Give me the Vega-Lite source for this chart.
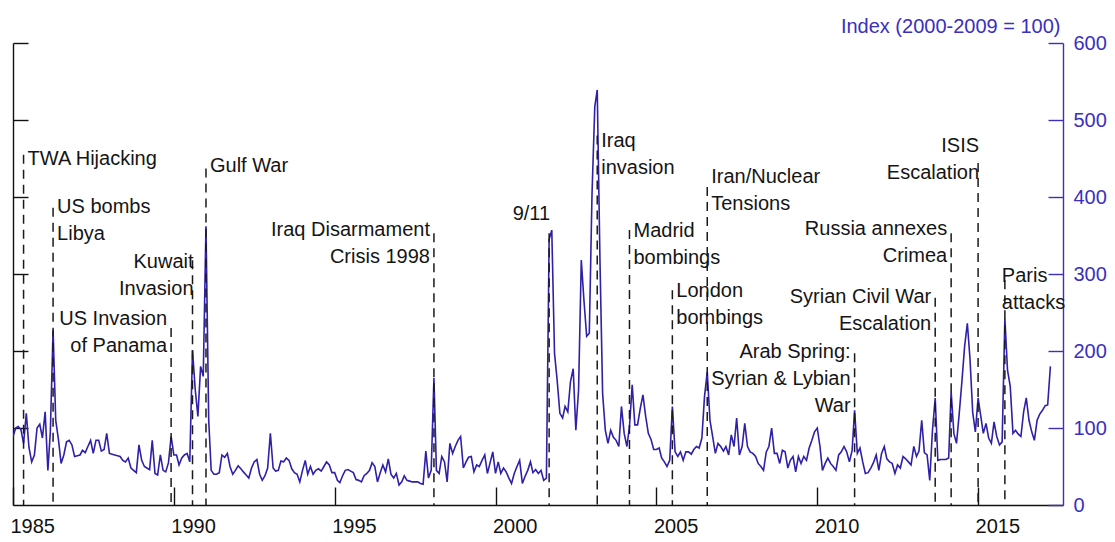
{
  "$schema": "https://vega.github.io/schema/vega-lite/v6.json",
  "width": 1050,
  "height": 462,
  "autosize": {"type": "none"},
  "padding": {"left": 13, "top": 43, "right": 52, "bottom": 37},
  "background": "white",
  "config": {"view": {"stroke": null}, "font": "Liberation Sans"},
  "datasets": {
    "gpr": [
      {"date":"1985-01","gpr":89},{"date":"1985-02","gpr":100},{"date":"1985-03","gpr":102},{"date":"1985-04","gpr":98},{"date":"1985-05","gpr":80},{"date":"1985-06","gpr":119},{"date":"1985-07","gpr":75},{"date":"1985-08","gpr":56},{"date":"1985-09","gpr":65},{"date":"1985-10","gpr":100},{"date":"1985-11","gpr":105},{"date":"1985-12","gpr":87},
      {"date":"1986-01","gpr":121},{"date":"1986-02","gpr":45},{"date":"1986-03","gpr":95},{"date":"1986-04","gpr":227},{"date":"1986-05","gpr":110},{"date":"1986-06","gpr":85},{"date":"1986-07","gpr":54},{"date":"1986-08","gpr":65},{"date":"1986-09","gpr":82},{"date":"1986-10","gpr":84},{"date":"1986-11","gpr":78},{"date":"1986-12","gpr":63},
      {"date":"1987-01","gpr":64},{"date":"1987-02","gpr":65},{"date":"1987-03","gpr":71},{"date":"1987-04","gpr":68},{"date":"1987-05","gpr":76},{"date":"1987-06","gpr":84},{"date":"1987-07","gpr":67},{"date":"1987-08","gpr":84},{"date":"1987-09","gpr":84},{"date":"1987-10","gpr":70},{"date":"1987-11","gpr":72},{"date":"1987-12","gpr":93},
      {"date":"1988-01","gpr":67},{"date":"1988-02","gpr":66},{"date":"1988-03","gpr":65},{"date":"1988-04","gpr":64},{"date":"1988-05","gpr":63},{"date":"1988-06","gpr":58},{"date":"1988-07","gpr":56},{"date":"1988-08","gpr":61},{"date":"1988-09","gpr":48},{"date":"1988-10","gpr":45},{"date":"1988-11","gpr":42},{"date":"1988-12","gpr":78},
      {"date":"1989-01","gpr":58},{"date":"1989-02","gpr":50},{"date":"1989-03","gpr":48},{"date":"1989-04","gpr":46},{"date":"1989-05","gpr":84},{"date":"1989-06","gpr":41},{"date":"1989-07","gpr":39},{"date":"1989-08","gpr":65},{"date":"1989-09","gpr":45},{"date":"1989-10","gpr":43},{"date":"1989-11","gpr":55},{"date":"1989-12","gpr":89},
      {"date":"1990-01","gpr":65},{"date":"1990-02","gpr":65},{"date":"1990-03","gpr":52},{"date":"1990-04","gpr":61},{"date":"1990-05","gpr":65},{"date":"1990-06","gpr":67},{"date":"1990-07","gpr":56},{"date":"1990-08","gpr":201},{"date":"1990-09","gpr":150},{"date":"1990-10","gpr":115},{"date":"1990-11","gpr":180},{"date":"1990-12","gpr":167},
      {"date":"1991-01","gpr":362},{"date":"1991-02","gpr":110},{"date":"1991-03","gpr":45},{"date":"1991-04","gpr":40},{"date":"1991-05","gpr":40},{"date":"1991-06","gpr":42},{"date":"1991-07","gpr":65},{"date":"1991-08","gpr":62},{"date":"1991-09","gpr":67},{"date":"1991-10","gpr":50},{"date":"1991-11","gpr":40},{"date":"1991-12","gpr":45},
      {"date":"1992-01","gpr":51},{"date":"1992-02","gpr":47},{"date":"1992-03","gpr":43},{"date":"1992-04","gpr":39},{"date":"1992-05","gpr":35},{"date":"1992-06","gpr":48},{"date":"1992-07","gpr":56},{"date":"1992-08","gpr":59},{"date":"1992-09","gpr":40},{"date":"1992-10","gpr":32},{"date":"1992-11","gpr":38},{"date":"1992-12","gpr":48},
      {"date":"1993-01","gpr":93},{"date":"1993-02","gpr":48},{"date":"1993-03","gpr":44},{"date":"1993-04","gpr":45},{"date":"1993-05","gpr":57},{"date":"1993-06","gpr":56},{"date":"1993-07","gpr":61},{"date":"1993-08","gpr":58},{"date":"1993-09","gpr":47},{"date":"1993-10","gpr":42},{"date":"1993-11","gpr":40},{"date":"1993-12","gpr":30},
      {"date":"1994-01","gpr":45},{"date":"1994-02","gpr":58},{"date":"1994-03","gpr":40},{"date":"1994-04","gpr":50},{"date":"1994-05","gpr":40},{"date":"1994-06","gpr":45},{"date":"1994-07","gpr":47},{"date":"1994-08","gpr":44},{"date":"1994-09","gpr":50},{"date":"1994-10","gpr":56},{"date":"1994-11","gpr":52},{"date":"1994-12","gpr":42},
      {"date":"1995-01","gpr":42},{"date":"1995-02","gpr":32},{"date":"1995-03","gpr":29},{"date":"1995-04","gpr":38},{"date":"1995-05","gpr":45},{"date":"1995-06","gpr":46},{"date":"1995-07","gpr":44},{"date":"1995-08","gpr":42},{"date":"1995-09","gpr":33},{"date":"1995-10","gpr":32},{"date":"1995-11","gpr":30},{"date":"1995-12","gpr":38},
      {"date":"1996-01","gpr":41},{"date":"1996-02","gpr":45},{"date":"1996-03","gpr":55},{"date":"1996-04","gpr":50},{"date":"1996-05","gpr":30},{"date":"1996-06","gpr":42},{"date":"1996-07","gpr":52},{"date":"1996-08","gpr":43},{"date":"1996-09","gpr":60},{"date":"1996-10","gpr":40},{"date":"1996-11","gpr":35},{"date":"1996-12","gpr":41},
      {"date":"1997-01","gpr":26},{"date":"1997-02","gpr":30},{"date":"1997-03","gpr":38},{"date":"1997-04","gpr":32},{"date":"1997-05","gpr":31},{"date":"1997-06","gpr":30},{"date":"1997-07","gpr":30},{"date":"1997-08","gpr":30},{"date":"1997-09","gpr":28},{"date":"1997-10","gpr":27},{"date":"1997-11","gpr":70},{"date":"1997-12","gpr":35},
      {"date":"1998-01","gpr":45},{"date":"1998-02","gpr":165},{"date":"1998-03","gpr":45},{"date":"1998-04","gpr":41},{"date":"1998-05","gpr":63},{"date":"1998-06","gpr":56},{"date":"1998-07","gpr":30},{"date":"1998-08","gpr":80},{"date":"1998-09","gpr":67},{"date":"1998-10","gpr":76},{"date":"1998-11","gpr":84},{"date":"1998-12","gpr":89},
      {"date":"1999-01","gpr":48},{"date":"1999-02","gpr":56},{"date":"1999-03","gpr":62},{"date":"1999-04","gpr":63},{"date":"1999-05","gpr":43},{"date":"1999-06","gpr":52},{"date":"1999-07","gpr":50},{"date":"1999-08","gpr":58},{"date":"1999-09","gpr":65},{"date":"1999-10","gpr":41},{"date":"1999-11","gpr":55},{"date":"1999-12","gpr":69},
      {"date":"2000-01","gpr":41},{"date":"2000-02","gpr":56},{"date":"2000-03","gpr":41},{"date":"2000-04","gpr":48},{"date":"2000-05","gpr":43},{"date":"2000-06","gpr":35},{"date":"2000-07","gpr":28},{"date":"2000-08","gpr":41},{"date":"2000-09","gpr":50},{"date":"2000-10","gpr":58},{"date":"2000-11","gpr":28},{"date":"2000-12","gpr":37},
      {"date":"2001-01","gpr":45},{"date":"2001-02","gpr":56},{"date":"2001-03","gpr":42},{"date":"2001-04","gpr":46},{"date":"2001-05","gpr":41},{"date":"2001-06","gpr":45},{"date":"2001-07","gpr":32},{"date":"2001-08","gpr":35},{"date":"2001-09","gpr":345},{"date":"2001-10","gpr":357},{"date":"2001-11","gpr":197},{"date":"2001-12","gpr":162},
      {"date":"2002-01","gpr":119},{"date":"2002-02","gpr":113},{"date":"2002-03","gpr":128},{"date":"2002-04","gpr":121},{"date":"2002-05","gpr":160},{"date":"2002-06","gpr":177},{"date":"2002-07","gpr":97},{"date":"2002-08","gpr":149},{"date":"2002-09","gpr":318},{"date":"2002-10","gpr":266},{"date":"2002-11","gpr":219},{"date":"2002-12","gpr":223},
      {"date":"2003-01","gpr":405},{"date":"2003-02","gpr":517},{"date":"2003-03","gpr":539},{"date":"2003-04","gpr":318},{"date":"2003-05","gpr":145},{"date":"2003-06","gpr":97},{"date":"2003-07","gpr":80},{"date":"2003-08","gpr":97},{"date":"2003-09","gpr":88},{"date":"2003-10","gpr":84},{"date":"2003-11","gpr":76},{"date":"2003-12","gpr":128},
      {"date":"2004-01","gpr":93},{"date":"2004-02","gpr":76},{"date":"2004-03","gpr":102},{"date":"2004-04","gpr":156},{"date":"2004-05","gpr":104},{"date":"2004-06","gpr":104},{"date":"2004-07","gpr":125},{"date":"2004-08","gpr":143},{"date":"2004-09","gpr":115},{"date":"2004-10","gpr":93},{"date":"2004-11","gpr":85},{"date":"2004-12","gpr":72},
      {"date":"2005-01","gpr":72},{"date":"2005-02","gpr":74},{"date":"2005-03","gpr":61},{"date":"2005-04","gpr":56},{"date":"2005-05","gpr":50},{"date":"2005-06","gpr":58},{"date":"2005-07","gpr":128},{"date":"2005-08","gpr":69},{"date":"2005-09","gpr":63},{"date":"2005-10","gpr":69},{"date":"2005-11","gpr":58},{"date":"2005-12","gpr":69},
      {"date":"2006-01","gpr":69},{"date":"2006-02","gpr":66},{"date":"2006-03","gpr":72},{"date":"2006-04","gpr":76},{"date":"2006-05","gpr":74},{"date":"2006-06","gpr":87},{"date":"2006-07","gpr":141},{"date":"2006-08","gpr":173},{"date":"2006-09","gpr":110},{"date":"2006-10","gpr":89},{"date":"2006-11","gpr":67},{"date":"2006-12","gpr":80},
      {"date":"2007-01","gpr":76},{"date":"2007-02","gpr":70},{"date":"2007-03","gpr":76},{"date":"2007-04","gpr":65},{"date":"2007-05","gpr":91},{"date":"2007-06","gpr":76},{"date":"2007-07","gpr":113},{"date":"2007-08","gpr":65},{"date":"2007-09","gpr":76},{"date":"2007-10","gpr":106},{"date":"2007-11","gpr":76},{"date":"2007-12","gpr":69},
      {"date":"2008-01","gpr":67},{"date":"2008-02","gpr":63},{"date":"2008-03","gpr":54},{"date":"2008-04","gpr":50},{"date":"2008-05","gpr":45},{"date":"2008-06","gpr":69},{"date":"2008-07","gpr":76},{"date":"2008-08","gpr":100},{"date":"2008-09","gpr":67},{"date":"2008-10","gpr":67},{"date":"2008-11","gpr":54},{"date":"2008-12","gpr":71},
      {"date":"2009-01","gpr":69},{"date":"2009-02","gpr":48},{"date":"2009-03","gpr":58},{"date":"2009-04","gpr":63},{"date":"2009-05","gpr":43},{"date":"2009-06","gpr":63},{"date":"2009-07","gpr":54},{"date":"2009-08","gpr":63},{"date":"2009-09","gpr":58},{"date":"2009-10","gpr":74},{"date":"2009-11","gpr":84},{"date":"2009-12","gpr":95},
      {"date":"2010-01","gpr":100},{"date":"2010-02","gpr":76},{"date":"2010-03","gpr":45},{"date":"2010-04","gpr":54},{"date":"2010-05","gpr":61},{"date":"2010-06","gpr":54},{"date":"2010-07","gpr":50},{"date":"2010-08","gpr":45},{"date":"2010-09","gpr":65},{"date":"2010-10","gpr":69},{"date":"2010-11","gpr":76},{"date":"2010-12","gpr":69},
      {"date":"2011-01","gpr":56},{"date":"2011-02","gpr":71},{"date":"2011-03","gpr":123},{"date":"2011-04","gpr":67},{"date":"2011-05","gpr":74},{"date":"2011-06","gpr":56},{"date":"2011-07","gpr":41},{"date":"2011-08","gpr":42},{"date":"2011-09","gpr":48},{"date":"2011-10","gpr":55},{"date":"2011-11","gpr":65},{"date":"2011-12","gpr":45},
      {"date":"2012-01","gpr":67},{"date":"2012-02","gpr":76},{"date":"2012-03","gpr":60},{"date":"2012-04","gpr":56},{"date":"2012-05","gpr":54},{"date":"2012-06","gpr":41},{"date":"2012-07","gpr":52},{"date":"2012-08","gpr":48},{"date":"2012-09","gpr":63},{"date":"2012-10","gpr":60},{"date":"2012-11","gpr":56},{"date":"2012-12","gpr":52},
      {"date":"2013-01","gpr":76},{"date":"2013-02","gpr":63},{"date":"2013-03","gpr":70},{"date":"2013-04","gpr":110},{"date":"2013-05","gpr":68},{"date":"2013-06","gpr":65},{"date":"2013-07","gpr":32},{"date":"2013-08","gpr":97},{"date":"2013-09","gpr":139},{"date":"2013-10","gpr":58},{"date":"2013-11","gpr":59},{"date":"2013-12","gpr":59},
      {"date":"2014-01","gpr":59},{"date":"2014-02","gpr":61},{"date":"2014-03","gpr":147},{"date":"2014-04","gpr":93},{"date":"2014-05","gpr":80},{"date":"2014-06","gpr":119},{"date":"2014-07","gpr":160},{"date":"2014-08","gpr":206},{"date":"2014-09","gpr":236},{"date":"2014-10","gpr":190},{"date":"2014-11","gpr":120},{"date":"2014-12","gpr":95},
      {"date":"2015-01","gpr":139},{"date":"2015-02","gpr":115},{"date":"2015-03","gpr":93},{"date":"2015-04","gpr":106},{"date":"2015-05","gpr":87},{"date":"2015-06","gpr":80},{"date":"2015-07","gpr":108},{"date":"2015-08","gpr":89},{"date":"2015-09","gpr":78},{"date":"2015-10","gpr":82},{"date":"2015-11","gpr":242},{"date":"2015-12","gpr":175},
      {"date":"2016-01","gpr":154},{"date":"2016-02","gpr":93},{"date":"2016-03","gpr":97},{"date":"2016-04","gpr":92},{"date":"2016-05","gpr":89},{"date":"2016-06","gpr":121},{"date":"2016-07","gpr":139},{"date":"2016-08","gpr":110},{"date":"2016-09","gpr":95},{"date":"2016-10","gpr":84},{"date":"2016-11","gpr":110},{"date":"2016-12","gpr":118},
      {"date":"2017-01","gpr":123},{"date":"2017-02","gpr":129},{"date":"2017-03","gpr":130},{"date":"2017-04","gpr":180}
    ],
    "events": [
      {"id":"twa","date":"1985-05","top":455,"labelY":442,"label":"TWA Hijacking"},
      {"id":"libya","date":"1986-04","top":386,"labelY":379,"label":"US bombs\n\u00a0Libya"},
      {"id":"panama","date":"1989-12","top":230,"labelY":234,"label":"US Invasion\nof Panama"},
      {"id":"kuwait","date":"1990-08","top":318,"labelY":308,"label":"Kuwait\nInvasion"},
      {"id":"gulf","date":"1991-01","top":437,"labelY":432,"label":"Gulf War"},
      {"id":"iraqdis","date":"1998-02","top":353,"labelY":350,"label":"Iraq Disarmament\nCrisis 1998"},
      {"id":"911","date":"2001-09","top":353,"labelY":370,"label":"9/11"},
      {"id":"iraqinv","date":"2003-03","top":480,"labelY":465,"label":"Iraq\n\u00a0invasion"},
      {"id":"madrid","date":"2004-03","top":357,"labelY":348,"label":"Madrid\n\u00a0bombings"},
      {"id":"london","date":"2005-07","top":279,"labelY":270,"label":"London\n\u00a0bombings"},
      {"id":"iran","date":"2006-08","top":413,"labelY":418,"label":"Iran/Nuclear\n\u00a0Tensions"},
      {"id":"arab","date":"2011-03","top":197,"labelY":191,"label":"Arab Spring:\nSyrian & Lybian\nWar"},
      {"id":"syria","date":"2013-09","top":269,"labelY":262,"label":"Syrian Civil War\nEscalation"},
      {"id":"crimea","date":"2014-03","top":353,"labelY":351,"label":"Russia annexes\nCrimea"},
      {"id":"isis","date":"2015-01","top":444,"labelY":458,"label":"ISIS\nEscalation"},
      {"id":"paris","date":"2015-11","top":292,"labelY":290,"label":"Paris\nattacks"}
    ]
  },
  "layer": [
    {
      "data": {"name": "gpr"},
      "mark": {"type": "line", "color": "#2e20a8", "strokeWidth": 1.6, "clip": true},
      "encoding": {
        "x": {
          "field": "date", "type": "temporal",
          "scale": {"type": "utc", "domain": [{"year": 1985, "month": 1, "date": 1, "utc": true}, {"year": 2017, "month": 8, "date": 22, "utc": true}]},
          "axis": {
            "orient": "bottom", "title": null, "grid": false, "format": "%Y",
            "values": [{"year": 1985, "month": 1, "date": 1, "utc": true}, {"year": 1990, "month": 1, "date": 1, "utc": true}, {"year": 1995, "month": 1, "date": 1, "utc": true}, {"year": 2000, "month": 1, "date": 1, "utc": true}, {"year": 2005, "month": 1, "date": 1, "utc": true}, {"year": 2010, "month": 1, "date": 1, "utc": true}, {"year": 2015, "month": 1, "date": 1, "utc": true}],
            "domainColor": "#111111", "domainWidth": 1.4, "tickColor": "#111111", "tickWidth": 1.4, "tickSize": -18,
            "labelAlign": "left", "labelOffset": -3, "labelBaseline": "top", "labelPadding": 29,
            "labelFont": "Liberation Sans", "labelFontSize": 20, "labelColor": "#111111", "labelFlush": false, "labelOverlap": false
          }
        },
        "y": {
          "field": "gpr", "type": "quantitative",
          "scale": {"domain": [0, 600], "nice": false},
          "axis": {
            "orient": "right", "grid": false, "values": [0, 100, 200, 300, 400, 500, 600],
            "domainColor": "#3a2fc0", "domainWidth": 1.4, "tickColor": "#3a2fc0", "tickWidth": 1.4, "tickSize": -15,
            "labelColor": "#3a2fc0", "labelFont": "Liberation Sans", "labelFontSize": 20, "labelPadding": 25, "labelAlign": "left", "labelBaseline": "middle", "labelFlush": false,
            "title": "Index (2000-2009 = 100)", "titleColor": "#3a2fc0", "titleFont": "Liberation Sans", "titleFontSize": 20, "titleFontWeight": "normal",
            "titleAngle": 0, "titleAlign": "right", "titleBaseline": "alphabetic", "titleX": -3, "titleY": -11
          }
        }
      }
    },
    {
      "data": {"name": "events"},
      "mark": {"type": "rule", "color": "#1a1a1a", "strokeWidth": 1.5, "strokeDash": [9, 6]},
      "encoding": {
        "x": {"field": "date", "type": "temporal"},
        "y": {
          "field": "top", "type": "quantitative",
          "axis": {
            "orient": "left", "grid": false, "labels": false, "title": null, "values": [100, 200, 300, 400, 500, 600],
            "domainColor": "#111111", "domainWidth": 1.4, "tickColor": "#111111", "tickWidth": 1.4, "tickSize": -15
          }
        },
        "y2": {"datum": 0}
      }
    },
    {
      "mark": {"type": "rule", "color": "#111111", "strokeWidth": 1.4},
      "encoding": {
        "x": {"datum": {"year": 1985, "month": 1, "date": 1, "utc": true}, "type": "temporal"},
        "x2": {"datum": {"year": 1985, "month": 12, "date": 20, "utc": true}},
        "y": {"datum": 600, "type": "quantitative", "axis": null}
      }
    },
    {
      "mark": {"type": "rule", "color": "#3a2fc0", "strokeWidth": 1.4},
      "encoding": {
        "x": {"datum": {"year": 2016, "month": 8, "date": 25, "utc": true}, "type": "temporal"},
        "x2": {"datum": {"year": 2017, "month": 8, "date": 22, "utc": true}},
        "y": {"datum": 600, "type": "quantitative", "axis": null}
      }
    },
    {
      "data": {"name": "events"},
      "transform": [{"filter": {"field": "id", "oneOf": ["twa", "libya", "gulf", "iraqinv", "madrid", "london", "iran"]}}],
      "mark": {"type": "text", "align": "left", "baseline": "alphabetic", "dx": 4, "font": "Liberation Sans", "fontSize": 20, "lineBreak": "\n", "lineHeight": 27, "color": "#151515"},
      "encoding": {
        "x": {"field": "date", "type": "temporal"},
        "y": {"field": "labelY", "type": "quantitative", "axis": null},
        "text": {"field": "label"}
      }
    },
    {
      "data": {"name": "events"},
      "transform": [{"filter": {"field": "id", "oneOf": ["panama", "iraqdis", "arab", "syria", "crimea"]}}],
      "mark": {"type": "text", "align": "right", "baseline": "alphabetic", "dx": -4, "font": "Liberation Sans", "fontSize": 20, "lineBreak": "\n", "lineHeight": 27, "color": "#151515"},
      "encoding": {
        "x": {"field": "date", "type": "temporal"},
        "y": {"field": "labelY", "type": "quantitative", "axis": null},
        "text": {"field": "label"}
      }
    },
    {
      "data": {"name": "events"},
      "transform": [{"filter": {"field": "id", "oneOf": ["kuwait", "911", "isis"]}}],
      "mark": {"type": "text", "align": "right", "baseline": "alphabetic", "dx": 1, "font": "Liberation Sans", "fontSize": 20, "lineBreak": "\n", "lineHeight": 27, "color": "#151515"},
      "encoding": {
        "x": {"field": "date", "type": "temporal"},
        "y": {"field": "labelY", "type": "quantitative", "axis": null},
        "text": {"field": "label"}
      }
    },
    {
      "data": {"name": "events"},
      "transform": [{"filter": {"field": "id", "oneOf": ["paris"]}}],
      "mark": {"type": "text", "align": "left", "baseline": "alphabetic", "dx": -3, "font": "Liberation Sans", "fontSize": 20, "lineBreak": "\n", "lineHeight": 27, "color": "#151515"},
      "encoding": {
        "x": {"field": "date", "type": "temporal"},
        "y": {"field": "labelY", "type": "quantitative", "axis": null},
        "text": {"field": "label"}
      }
    }
  ],
  "resolve": {"axis": {"y": "independent"}}
}
